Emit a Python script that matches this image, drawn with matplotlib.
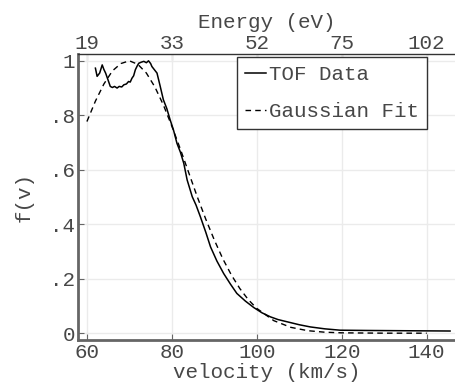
import matplotlib
matplotlib.use("Agg")
import matplotlib.pyplot as plt

# TOF data (velocity km/s, f(v))
tof_v = [62.0, 62.4, 63.0, 63.6, 64.0, 64.4, 65.1, 65.5, 66.0, 66.5, 67.1, 67.6, 68.2, 68.7,
         69.3, 69.8, 70.2, 70.6, 71.0, 71.4, 71.8, 72.2, 72.8, 73.4, 74.0, 74.5, 75.0, 75.3,
         76.0, 76.5, 77.2, 78.0, 78.8, 79.6, 80.4, 81.2, 82.0, 82.8, 83.6, 84.8, 85.7, 86.7,
         88.0, 89.1, 90.6, 92.2, 93.8, 95.3, 97.3, 99.3, 101.2, 103.2, 105.0, 107.1, 110.0,
         112.6, 116.0, 119.6, 126.0, 135.0, 145.5]
tof_f = [0.973, 0.943, 0.955, 0.985, 0.968, 0.955, 0.924, 0.906, 0.902, 0.906, 0.900, 0.906, 0.904, 0.912,
         0.915, 0.924, 0.922, 0.936, 0.945, 0.967, 0.980, 0.991, 0.995, 0.998, 0.993, 1.000, 0.990, 0.979,
         0.965, 0.955, 0.910, 0.857, 0.825, 0.783, 0.745, 0.697, 0.665, 0.624, 0.5625, 0.501, 0.470, 0.428,
         0.370, 0.317, 0.265, 0.219, 0.180, 0.146, 0.118, 0.094, 0.075, 0.060, 0.050, 0.042, 0.031,
         0.023, 0.016, 0.011, 0.010, 0.009, 0.008]

# Gaussian fit
fit_v = [60, 62, 64, 66, 68, 70, 72, 74, 76, 78, 80, 82, 84, 86, 88, 90, 92, 94, 96, 98, 100,
         104, 108, 112, 116, 120, 130, 140]
fit_f = [0.777, 0.852, 0.915, 0.963, 0.990, 1.000, 0.987, 0.955, 0.904, 0.838, 0.760, 0.676,
         0.588, 0.500, 0.418, 0.342, 0.273, 0.214, 0.164, 0.123, 0.091,
         0.046, 0.0215, 0.0092, 0.0036, 0.0013, 0.0001, 0.0]

x_ticks = [60, 80, 100, 120, 140]
energy_labels = ["19", "33", "52", "75", "102"]
y_ticks = [0, 0.2, 0.4, 0.6, 0.8, 1.0]
y_labels = ["0", ".2", ".4", ".6", ".8", "1"]

plt.rcParams['font.family'] = ['Liberation Mono', 'DejaVu Sans Mono']
FS = 15
TC = '#474747'

fig = plt.figure(figsize=(4.56, 3.89), dpi=100)
ax = fig.add_axes([78/456, 49/389, 1 - 78/456, (340-54)/389])

ax.plot(tof_v, tof_f, color='black', lw=1.1, label='TOF Data')
ax.plot(fit_v, fit_f, color='black', lw=1.0, ls=(0, (4, 3)), label='Gaussian Fit')

ax.set_xlim(57.9, 146.9)
ax.set_ylim(-0.025, 1.025)
ax.set_xticks(x_ticks)
ax.set_yticks(y_ticks, labels=y_labels)
ax.grid(True, color='#ebebeb', lw=1)
ax.set_axisbelow(True)

for s in ['left', 'bottom']:
    ax.spines[s].set_color('#666666')
    ax.spines[s].set_linewidth(2)
ax.spines['top'].set_color('#333333')
ax.spines['top'].set_linewidth(1)
ax.spines['right'].set_visible(False)

ax.tick_params(direction='in', length=4, width=0.8, color='#666666',
               labelsize=FS, labelcolor=TC, pad=2)
ax.set_xlabel('velocity (km/s)', fontsize=FS, color=TC, labelpad=1)
ax.set_ylabel('f(v)', fontsize=FS, color=TC, labelpad=12)

sec = ax.secondary_xaxis('top')
sec.set_xticks(x_ticks, labels=energy_labels)
sec.tick_params(direction='in', length=4, width=0.8, color='#333333',
                labelsize=FS, labelcolor=TC, pad=1)
sec.spines['top'].set_visible(False)
sec.set_xlabel('Energy (eV)', fontsize=FS, color=TC, labelpad=4)

leg = ax.legend(loc='upper right', bbox_to_anchor=(0.923, 0.99), fontsize=FS,
                frameon=True, fancybox=False, edgecolor='#333333',
                handlelength=1.0, handletextpad=0.12, borderaxespad=0,
                borderpad=0.4, labelspacing=0.85, framealpha=1)
leg.get_frame().set_linewidth(1)
for t in leg.get_texts():
    t.set_color(TC)

fig.savefig('out.png', dpi=100)
